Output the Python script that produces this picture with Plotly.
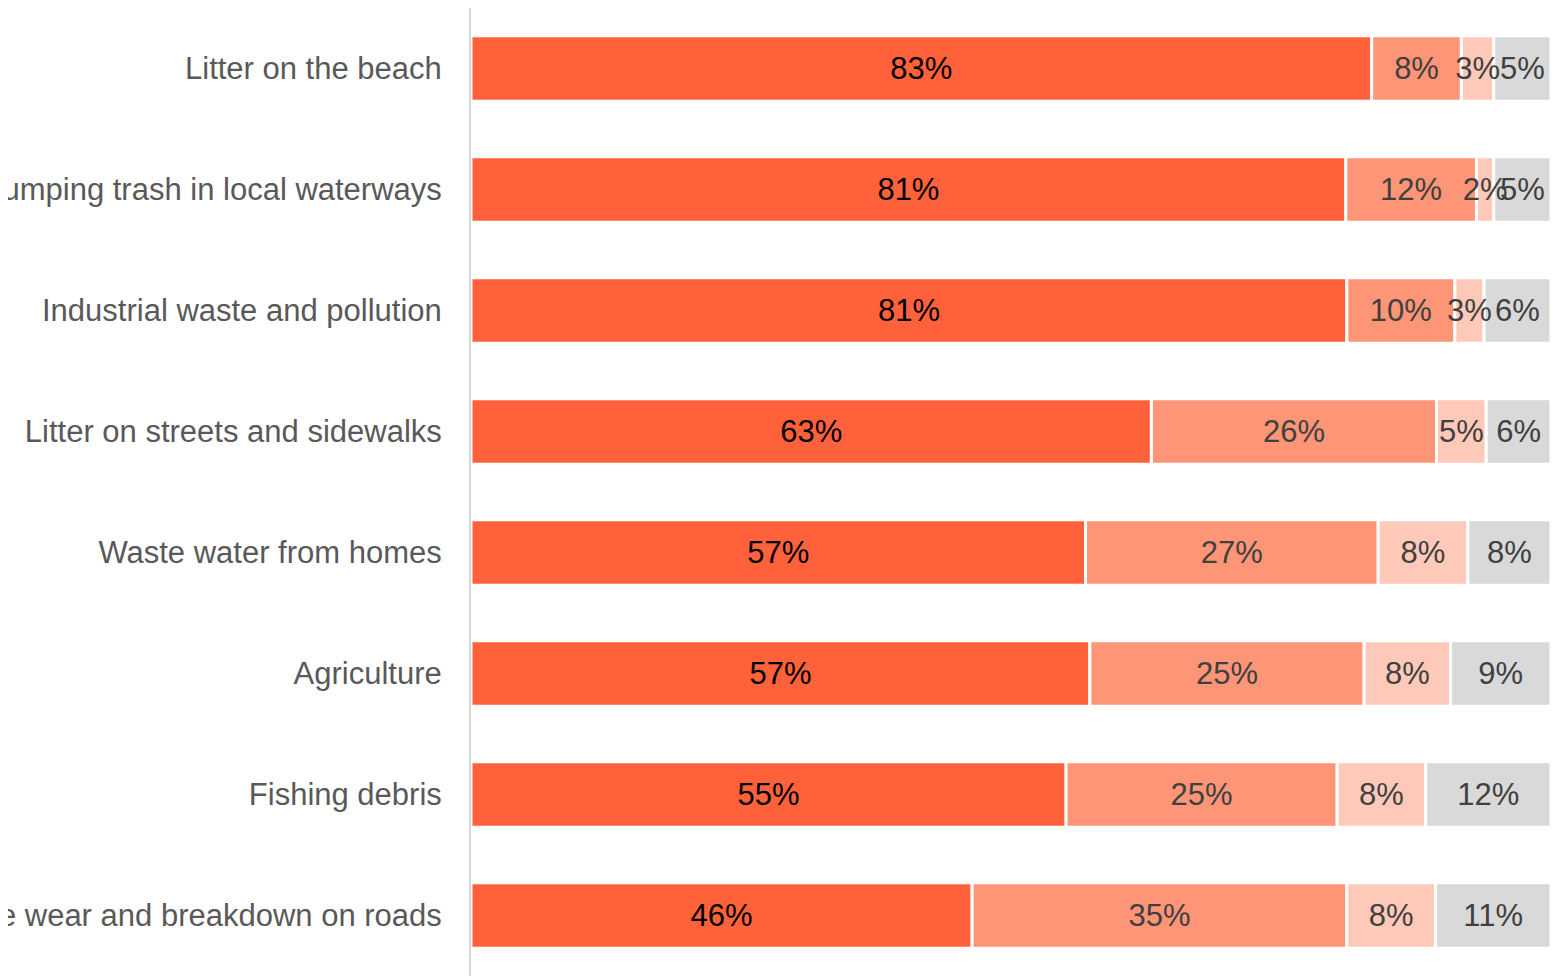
import numpy as np
import plotly.graph_objects as go

categories = [
    "Litter on the beach",
    "Dumping trash in local waterways",
    "Industrial waste and pollution",
    "Litter on streets and sidewalks",
    "Waste water from homes",
    "Agriculture",
    "Fishing debris",
    "Tire wear and breakdown on roads",
]

# shares per category (percent)
very_concerned = [83.4, 81.0, 81.1, 63.0, 56.9, 57.3, 55.1, 46.4]
somewhat_concerned = [8.3, 12.1, 10.0, 26.4, 27.1, 25.4, 25.1, 34.7]
not_very_concerned = [3.0, 1.6, 2.7, 4.6, 8.3, 8.0, 8.2, 8.2]
not_sure = [5.3, 5.3, 6.2, 6.0, 7.7, 9.3, 11.6, 10.7]

series = [
    ("Very concerned", very_concerned, "#FF623A", "#000000"),
    ("Somewhat concerned", somewhat_concerned, "#FF9577", "#404040"),
    ("Not very concerned", not_very_concerned, "#FFC9B9", "#404040"),
    ("Not sure", not_sure, "#D9D9D9", "#404040"),
]

# stack by hand (overlay mode) so the labels can be drawn on top of every bar
bases = np.cumsum([np.zeros(len(categories))] + [np.array(s[1]) for s in series[:-1]], axis=0)

fig = go.Figure()

for (name, vals, color, txtcolor), base in zip(series, bases):
    fig.add_trace(
        go.Bar(
            y=categories,
            x=vals,
            base=base,
            name=name,
            orientation="h",
            marker=dict(color=color, line=dict(color="white", width=3)),
            hoverinfo="skip",
        )
    )

for (name, vals, color, txtcolor), base in zip(series, bases):
    fig.add_trace(
        go.Bar(
            y=categories,
            x=vals,
            base=base,
            name=name + " label",
            orientation="h",
            marker=dict(color="rgba(0,0,0,0)", line=dict(width=0)),
            texttemplate="%{x:.0f}%",
            textposition="inside",
            insidetextanchor="middle",
            textangle=0,
            constraintext="none",
            textfont=dict(family="Liberation Sans, Arial", size=31, color=txtcolor),
            hoverinfo="skip",
        )
    )

# page body has an 8px margin, so the figure sits at (8, 8)
fig.update_layout(
    barmode="overlay",
    bargap=0.46,
    width=1550,
    height=968,
    margin=dict(l=463, r=7, t=0, b=0, autoexpand=False),
    paper_bgcolor="white",
    plot_bgcolor="white",
    showlegend=False,
    font=dict(family="Liberation Sans, Arial", color="#595959"),
)
fig.update_xaxes(range=[0, 100], visible=False, fixedrange=True)
fig.update_yaxes(
    autorange="reversed",
    automargin=False,
    showline=True,
    linecolor="#D9D9D9",
    linewidth=2,
    ticks="",
    ticklabelstandoff=21,
    tickfont=dict(size=31, color="#595959"),
    showgrid=False,
)

fig.write_html("out.html")
